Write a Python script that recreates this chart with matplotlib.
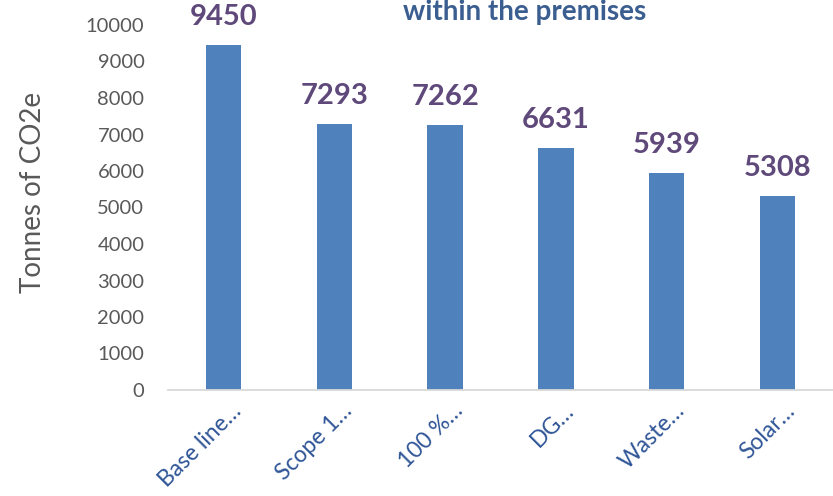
import matplotlib.pyplot as plt
import matplotlib.transforms as mtransforms

# data
categories = ["Base line…", "Scope 1…", "100 %…", "DG…", "Waste…", "Solar…"]
emissions = [9450, 7293, 7262, 6631, 5939, 5308]
y_ticks = [0, 1000, 2000, 3000, 4000, 5000, 6000, 7000, 8000, 9000, 10000]

plt.rcParams['font.family'] = ['Lato', 'DejaVu Sans']

bar_color = "#4F81BD"
label_color = "#5F497A"
tick_color = "#595959"
cat_color = "#2F5597"
title_color = "#3B5E91"

fig = plt.figure(figsize=(8.33, 4.96), dpi=100)
ax = fig.add_axes([168 / 833, 106 / 496, 1 - 168 / 833, 365 / 496])

x = list(range(len(categories)))
ax.bar(x, emissions, width=0.32, color=bar_color, zorder=2)

# value labels above bars
for xi, v in zip(x, emissions):
    ax.annotate(str(v), (xi, v), xytext=(0, 14.5), textcoords="offset points",
                ha="center", va="baseline", fontsize=21, fontweight="bold",
                color=label_color)

ax.set_xlim(-0.5, len(categories) - 0.5)
ax.set_ylim(0, 10000)
ax.set_yticks(y_ticks)
ax.set_yticklabels([str(t) for t in y_ticks], fontsize=14.5, color=tick_color)
ax.set_xticks(x)
ax.set_xticklabels(categories, rotation=45, ha="right", va="baseline",
                   rotation_mode="anchor", fontsize=16.5, color=cat_color)
ax.tick_params(axis="both", length=0)
ax.tick_params(axis="y", pad=17)
ax.tick_params(axis="x", pad=0)

# move rotated labels so their end sits right of the category centre
shift = mtransforms.ScaledTranslation(19 / 100, -22 / 100, fig.dpi_scale_trans)
for lbl in ax.get_xticklabels():
    lbl.set_transform(lbl.get_transform() + shift)

for side in ["top", "right", "left"]:
    ax.spines[side].set_visible(False)
ax.spines["bottom"].set_color("#D9D9D9")
ax.spines["bottom"].set_linewidth(1.3)

ax.set_ylabel("Tonnes of CO2e", fontsize=20, color=tick_color)
ax.yaxis.set_label_coords(-0.183, 0.542)

# title (its first line lies above the picture in the reference)
fig.text(525 / 833, 1 - 20 / 496, "within the premises", ha="center",
         va="baseline", fontsize=20, fontweight="bold", color=title_color)

fig.savefig("out.png", dpi=100, facecolor="white")
